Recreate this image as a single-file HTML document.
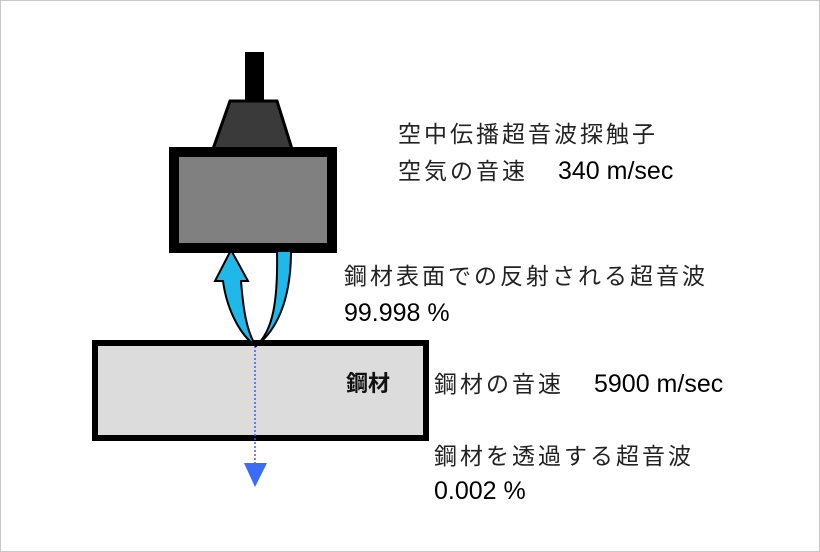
<!DOCTYPE html>
<html><head><meta charset="utf-8"><style>
html,body{margin:0;padding:0;background:#fff}
#c{position:relative;width:818px;height:550px;border:1px solid #c8c8c8;overflow:hidden;font-family:"Liberation Sans","Noto Sans CJK JP",sans-serif;color:#222}
.t{position:absolute;font-size:23px;line-height:28px;white-space:nowrap}
.j{letter-spacing:3px}
.l{font-size:25px;color:#000}
</style></head><body><div id="c">
<svg width="818" height="550" style="position:absolute;left:0;top:0">
<rect x="244" y="51" width="19" height="52" fill="#000"/>
<polygon points="229,100 276,100 291,148 212,148" fill="#3a3a3a" stroke="#000" stroke-width="3"/>
<rect x="173" y="151" width="158" height="96" fill="#808080" stroke="#000" stroke-width="10"/>
<rect x="94" y="342" width="331" height="95" fill="#dcdcdc" stroke="#000" stroke-width="6"/>
<line x1="254" y1="345" x2="254" y2="465" stroke="#3a5cf0" stroke-width="1.5" stroke-dasharray="2,2"/>
<polygon points="243,462 266,462 254,486" fill="#3a6cf8"/>
<path d="M276,250 L290,250 C290,300 275,330 255,345 C245,330 242,305 240,280 L247,280 L230,249 L214,280 L222,280 C226,310 240,335 255,345 C272,330 277,300 276,250 Z" fill="#1fb8e8" stroke="#000" stroke-width="2"/>
</svg>
<div class="t" style="left:345px;top:369px;font-weight:bold;color:#111;font-size:22px">鋼材</div>
<div class="t j" style="left:397px;top:119px">空中伝播超音波探触子</div>
<div class="t" style="left:397px;top:156px"><span class="j">空気の音速</span><span class="l" style="position:absolute;left:160px;top:0">340 m/sec</span></div>
<div class="t j" style="left:343px;top:261px">鋼材表面での反射される超音波</div>
<div class="t l" style="left:343px;top:298px">99.998 %</div>
<div class="t" style="left:433px;top:369px"><span class="j">鋼材の音速</span><span class="l" style="position:absolute;left:160px;top:0">5900 m/sec</span></div>
<div class="t j" style="left:433px;top:441px">鋼材を透過する超音波</div>
<div class="t l" style="left:433px;top:476px">0.002 %</div>
</div></body></html>
